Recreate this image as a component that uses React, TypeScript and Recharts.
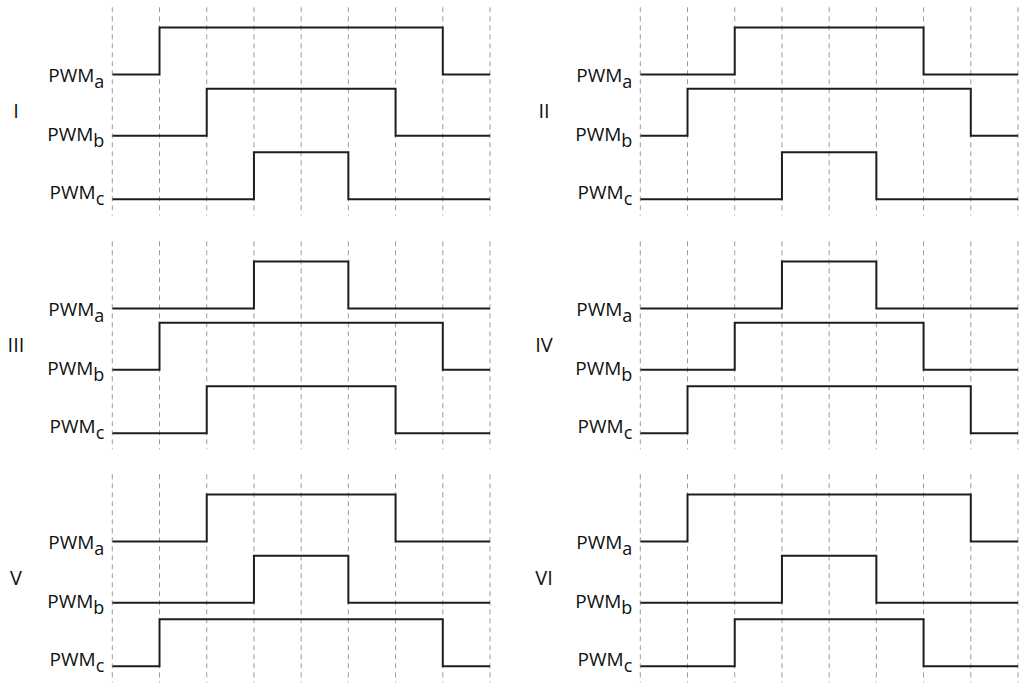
import React from 'react';
import { LineChart, Line, XAxis, YAxis, CartesianGrid } from 'recharts';

// ---- data ----
const panelNames = ['I', 'II', 'III', 'IV', 'V', 'VI'];
const phaseNames = ['a', 'b', 'c'];
const timeTicks = [0, 1, 2, 3, 4, 5, 6, 7, 8];
// switching instants (in grid intervals) of each phase, per panel
const riseA = [1, 2, 3, 3, 2, 1];
const fallA = [7, 6, 5, 5, 6, 7];
const riseB = [2, 1, 1, 2, 3, 3];
const fallB = [6, 7, 7, 6, 5, 5];
const riseC = [3, 3, 2, 1, 1, 2];
const fallC = [5, 5, 6, 7, 7, 6];
// logic-low level of each trace (a, b, c); logic high = low + pulseHeight
const lowLevel = [2.65, 1.35, 0];
const pulseHeight = 1;

// ---- layout / style ----
const FONT = '"Open Sans", "DejaVu Sans", sans-serif';
const CHART_W = 495;
const CHART_H = 220;
const COL_LEFT = [0, 528.4];
const ROW_TOP = [0, 233.7, 467.4];
const Y_DOMAIN: [number, number] = [-0.34, 4.08];
const LABEL_DY = [7, 5, 0];

function buildPanelData(p: number) {
  const rises = [riseA[p], riseB[p], riseC[p]];
  const falls = [fallA[p], fallB[p], fallC[p]];
  return timeTicks.map((t) => {
    const row: Record<string, number> = { t };
    phaseNames.forEach((ph, i) => {
      const on = t >= rises[i] && t < falls[i];
      row[ph] = lowLevel[i] + (on ? pulseHeight : 0);
    });
    return row;
  });
}

const PhaseTick = (props: any) => {
  const { x, y, payload } = props;
  const idx = lowLevel.indexOf(payload.value);
  if (idx < 0) return null;
  return (
    <text
      x={x}
      y={y + LABEL_DY[idx]}
      textAnchor="end"
      fontSize={19}
      fontFamily={FONT}
      fill="#111"
    >
      PWM
      <tspan dy={6} fontSize={18}>
        {phaseNames[idx]}
      </tspan>
    </text>
  );
};

const makeNumeral = (name: string) => (props: any) => {
  const vb = props.viewBox || { x: 0, y: 0 };
  return (
    <text
      x={16}
      y={vb.y + 111}
      textAnchor="middle"
      fontSize={20}
      fontFamily={FONT}
      fill="#111"
    >
      {name}
    </text>
  );
};

const Panel = ({ p }: { p: number }) => {
  const data = buildPanelData(p);
  const col = p % 2;
  const row = Math.floor(p / 2);
  return (
    <div
      style={{
        position: 'absolute',
        left: COL_LEFT[col],
        top: ROW_TOP[row],
        width: CHART_W,
        height: CHART_H,
      }}
    >
      <LineChart
        width={CHART_W}
        height={CHART_H}
        data={data}
        margin={{ top: 7.3, right: 5, bottom: 3.7, left: 0 }}
      >
        <CartesianGrid
          horizontal={false}
          vertical={true}
          syncWithTicks
          stroke="#9a9a9a"
          strokeWidth={1}
          strokeDasharray="5 4"
        />
        <XAxis
          dataKey="t"
          type="number"
          domain={[0, 8]}
          ticks={timeTicks}
          interval={0}
          height={1}
          tick={() => null}
          axisLine={false}
          tickLine={false}
          allowDataOverflow
        />
        <YAxis
          type="number"
          domain={Y_DOMAIN}
          ticks={lowLevel}
          interval={0}
          width={112.3}
          axisLine={false}
          tickLine={false}
          tick={<PhaseTick />}
          allowDataOverflow
          label={{ content: makeNumeral(panelNames[p]) }}
        />
        {phaseNames.map((ph) => (
          <Line
            key={ph}
            type="stepAfter"
            dataKey={ph}
            stroke="#1e1e1e"
            strokeWidth={2}
            dot={false}
            activeDot={false}
            isAnimationActive={false}
          />
        ))}
      </LineChart>
    </div>
  );
};

export default function App() {
  return (
    <div
      style={{
        position: 'absolute',
        left: 0,
        top: 0,
        width: 1024,
        height: 688,
        overflow: 'hidden',
        background: '#fff',
      }}
    >
      {panelNames.map((_, p) => (
        <Panel key={p} p={p} />
      ))}
    </div>
  );
}
